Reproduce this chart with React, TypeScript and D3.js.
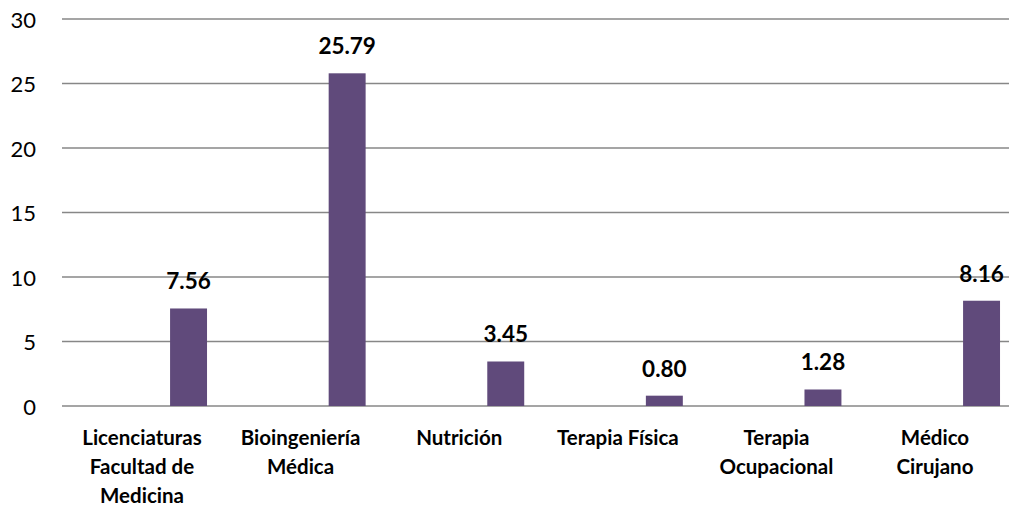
import React from "react";
import * as d3 from "d3";

const categories = [
  "Licenciaturas Facultad de Medicina",
  "Bioingeniería Médica",
  "Nutrición",
  "Terapia Física",
  "Terapia Ocupacional",
  "Médico Cirujano",
];
const categoryLines = [
  ["Licenciaturas", "Facultad de", "Medicina"],
  ["Bioingeniería", "Médica"],
  ["Nutrición"],
  ["Terapia Física"],
  ["Terapia", "Ocupacional"],
  ["Médico", "Cirujano"],
];
const values = [7.56, 25.79, 3.45, 0.8, 1.28, 8.16];
const yTicks = [0, 5, 10, 15, 20, 25, 30];

const W = 1009;
const H = 506;
const font = "Lato, 'Open Sans', sans-serif";

export default function App() {
  const x = d3.scaleBand<string>().domain(categories).range([62.7, 1014.3]).padding(0);
  const y = d3.scaleLinear().domain([0, 30]).range([406, 19]);
  const bw = x.bandwidth();

  return (
    <svg
      width={W}
      height={H}
      style={{ position: "absolute", left: 0, top: 0, background: "#fff" }}
      fontFamily={font}
    >
      {/* gridlines + y labels */}
      {yTicks.map((t) => (
        <g key={t}>
          <line x1={62} x2={W} y1={y(t)} y2={y(t)} stroke="#878787" strokeWidth={1.6} />
          <text
            x={36}
            y={y(t)}
            textAnchor="end"
            dominantBaseline="central"
            fontSize={22}
            fill="#000"
          >
            {t}
          </text>
        </g>
      ))}

      {/* bars */}
      {categories.map((c, i) => {
        const bx = (x(c) ?? 0) + 0.677 * bw;
        const w = 0.233 * bw;
        return (
          <g key={c}>
            <rect x={bx} y={y(values[i])} width={w} height={y(0) - y(values[i])} fill="#604A7B" />
            <text
              x={bx + w / 2}
              y={y(values[i]) - 19}
              textAnchor="middle"
              fontSize={22.5}
              fontWeight="bold"
              fill="#000"
            >
              {values[i].toFixed(2)}
            </text>
          </g>
        );
      })}

      {/* category labels */}
      {categories.map((c, i) => (
        <text
          key={c}
          x={(x(c) ?? 0) + bw / 2}
          y={445}
          textAnchor="middle"
          fontSize={20.5}
          fontWeight="bold"
          fill="#000"
        >
          {categoryLines[i].map((l, j) => (
            <tspan key={j} x={(x(c) ?? 0) + bw / 2} y={445 + j * 29}>
              {l}
            </tspan>
          ))}
        </text>
      ))}
    </svg>
  );
}
